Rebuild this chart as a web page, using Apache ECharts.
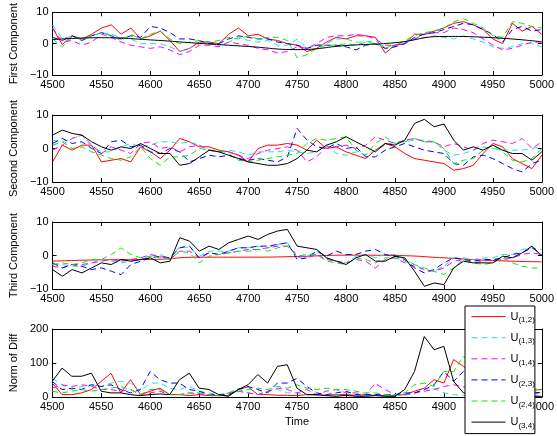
<!DOCTYPE html>
<html>
<head>
<meta charset="utf-8">
<script src="https://cdn.jsdelivr.net/npm/echarts@6/dist/echarts.min.js"></script>
<style>
html,body{margin:0;padding:0;background:#fff;}
#main{width:557px;height:436px;}
</style>
</head>
<body>
<div id="main"></div>
<script>
// sample positions
var time10=[4500,4510,4520,4530,4540,4550,4560,4570,4580,4590,4600,4610,4620,4630,4640,4650,4660,4670,4680,4690,
4700,4710,4720,4730,4740,4750,4760,4770,4780,4790,4800,4810,4820,4830,4840,4850,4860,4870,4880,4890,
4900,4910,4920,4930,4940,4950,4960,4970,4980,4990,5000];
var time50=[4500,4550,4600,4650,4700,4750,4800,4850,4900,4950,5000];
var timeTicks=[4500,4550,4600,4650,4700,4750,4800,4850,4900,4950,5000];
var seriesNames=['U(1,2)','U(1,3)','U(1,4)','U(2,3)','U(2,4)','U(3,4)'];
var panelTitles=['First Component','Second Component','Third Component','Norm of Diff'];

// first component
var first12=[5,-0.3,2.5,1.5,3,5,6,3,5,1.5,2.5,4,1,-2.5,-1.5,0.5,0.5,0,3,5,2.5,3,1.5,1,0,-0.5,-2.5,-1.5,0.5,2,1.5,2.5,2.5,2,-3,-0.5,0,3,3,4,5,6.5,7,6,4.5,1.5,0,6.5,4,5.5,3];
var first13=[6,1.5,2.5,1,2.5,3.5,3,2,1.5,0,0,0,-1,-2.5,-1.5,0,0,-0.5,0.5,2,1,0.5,1,-0.5,-0.5,1.5,-1.5,-0.5,0,1.5,1.5,0.5,0.5,1,-1.5,-1,0,1.5,2,2.5,2,1.5,2.5,1.5,0.5,-1,-1.5,-1,0,0,-1];
var first14=[5,0.5,1,-0.5,0.5,3,2,0.5,-0.5,-1,-1.5,-1,-2,-3.5,-2.5,-0.5,-0.5,-1,0.5,0,-0.5,-1.5,-2,-3,-2.5,-1,-1.5,0,2,2.5,2.5,3,2.5,1.5,-0.5,-0.5,0.5,1.5,3,3.5,3.5,5,4.5,3.5,1.5,-0.5,-2,-1.5,-0.5,0.5,0.5];
var first23=[2,1,2.5,1,2.5,3.5,2.5,1.5,2.5,2,5.5,5,3.5,1.5,1.5,1,0,0,1.5,2.5,2,1.5,1.5,0.5,0,-0.5,-1.5,-0.5,-0.5,-0.5,-1,-2,-0.5,0,-1.5,-1,0,2,3,3.5,4.5,5.5,6.5,6,4.5,3,0.5,4.5,5.5,4,4.5];
var first24=[1.5,-1,2,1.5,2.5,3.5,2.5,1,3,1.5,3,4,1.5,0,0.5,1,0.5,1,2,1.5,2.5,1.5,2,2,1,-4.5,-3.5,-1.5,-0.5,-0.5,0,-0.5,0.5,0,-1,-0.5,1,2.5,3.5,4,5,7,8,6.5,5,2.5,2,7,6.5,5.5,5];
var first34=[1.3,1.9,1.2,0.1,-0.9,-1.9,-0.6,0.3,2.3,1.9,0.6];

// second component
var second12=[-4,1,-0.5,1,1,-4,-3.5,-3,-4,0.5,-1,-3,-0.5,3,2,0.5,0.5,-0.5,-1,-2,-4,0,1,1,1.5,1,-0.5,2.5,0,0.5,-1,-2,-3,-0.5,1.5,0.5,-1.5,-3,-3.5,-4,-4.5,-6.5,-6,-5,-1.5,1.5,0.5,-3,-4.5,-6,-2];
var second13=[2.5,2,3,4,0.5,-1,-1,0.5,1.5,0.5,1,2,2,1.5,2,1,-0.5,-1,-0.5,-1,-2,-1,-1,-1,-0.5,-1,-1.5,-1,1,-1.5,-2,-1,-2,-0.5,1,2,2,2.5,2.5,2,-0.5,-2,-1.5,-0.5,0.5,0,-0.5,-0.5,-0.5,0,0.5];
var second14=[-0.5,1,3,4,1,-1.5,0.5,-0.5,-1.5,1.5,2,0,0.5,-1,0.5,1,-0.5,-1,-1,-2,-3,-1.5,-0.5,0,0.5,-0.5,-4,-2.5,0.5,0.5,1,0,1,3.5,2.5,1.5,2.5,3,2,2,0.5,1.5,0.5,-0.5,1.5,2.5,2,1.5,3,0,2];
var second23=[1.5,3,1.5,2,0,-1.5,2,2.5,0.5,1,-1,-1.5,0,-1,-4,-3,-2,-2.5,-2,-3,-3.5,-3,-3.5,-4,-2.5,6,2.5,0.5,0,1.5,0,0.5,-2.5,-2.5,-0.5,0.5,1.5,0.5,-0.5,-1,-1.5,-4.5,-5,-2.5,-2,-3,-4.5,-6,-7,-4.5,-3.5];
var second24=[1,2,0,0.5,-1,-2,-3,-3.5,-2.5,0.5,-3,-5,-2.5,-2.5,-2,0,-0.5,-0.5,-1.5,-3.5,-4,-3.5,-3,-2.5,-2,-1.5,1.5,3,2.5,3,3.5,-0.5,-2,1.5,3.5,1.5,2,3,2,2,0,-4.5,-3.5,-3,-0.5,1,-1,-3.5,-4,-3,0];
var second34=[4,5.5,4.5,4,2,0.5,-0.5,0.5,0,1.5,0,-1.5,-1.5,-5,-4.5,-2.5,-0.5,-1,-2,-3,-4,-4.5,-5,-5,-4.5,-3,-0.5,-1,1,2,3.5,2,0.5,-1,1.5,1,2.5,7.5,8.7,6.5,7.3,2.5,-0.5,0.5,-0.5,1,-0.5,-1.5,-1.5,-3.5,-1];

// third component
var third12=[-1.7,-1.3,-1.2,-0.5,-0.5,-0.3,0.1,0,-0.7,-1.5,-1.9];
var third13=[-2.7,-2.7,-3.2,-3.2,-2.2,-1.2,-1.7,-2.2,-1.7,-1.2,-0.2,0.3,-1.2,2.8,2.3,-0.2,1.3,1.3,1.3,2.3,2.3,2.8,2.3,3.3,3.8,-0.7,-0.2,1.3,-0.7,-1.7,-2.2,-0.2,0.3,-0.7,0.3,0.3,-1.2,-2.7,-4.2,-4.7,-3.2,-0.7,-0.7,-1.2,-0.7,-0.7,0.3,0.3,1.8,2.3,1.8];
var third14=[-3.2,-3.7,-2.7,-2.7,-2.2,-1.7,-1.2,-1.7,-1.2,-0.7,0.3,-0.2,-1.2,1.3,1.3,-0.7,0.8,0.3,0.8,1.3,1.8,1.8,2.3,2.8,2.8,0.3,-0.7,0.3,-1.2,-1.7,-2.2,-1.2,-1.7,-3.7,-1.2,-0.7,-2.2,-3.2,-4.2,-4.7,-3.7,-1.7,-1.2,-2.2,-1.7,-1.2,-1.2,-0.7,0.3,0.8,0.3];
var third23=[-2.2,-3.7,-2.7,-3.2,-4.2,-3.7,-4.7,-5.7,-2.7,-1.7,-0.7,-0.2,-0.7,2.3,2.8,-0.7,0.8,0.3,1.3,2.3,2.3,2.8,2.8,3.3,3.8,-1.2,-0.7,1.3,-0.2,1.3,0.3,0.3,1.3,1.8,0.3,-0.2,-1.2,-3.7,-5.2,-4.2,-2.2,-0.7,-1.2,-1.7,-1.2,-1.2,-0.7,0.3,0.8,2.3,0.3];
var third24=[-2.7,-2.2,-2.7,-2.2,-1.2,-1.2,0.3,2.3,0.3,-0.7,-0.2,-0.7,-1.2,1.3,0.8,-2.2,-0.2,0.3,0.8,1.3,1.3,1.8,1.3,2.3,2.8,-0.2,0.3,0.3,-1.7,-2.2,-2.7,-0.7,-1.2,-2.2,-0.7,-0.7,-1.7,-2.7,-3.7,-4.7,-5.7,-3.7,-1.2,-2.2,-2.7,-2.2,-0.7,-2.2,-3.2,-3.7,-3.7];
var third34=[-4.2,-6.2,-4.2,-5.2,-3.7,-2.2,-2.7,-1.2,-1.7,-1.2,-0.7,-2.2,-1.7,5.3,4.3,1.3,2.8,1.8,3.8,4.8,5.8,4.8,6.3,7.3,7.8,2.8,2.3,1.8,-0.7,-1.7,-2.7,-0.7,0.3,-1.7,-1.7,-0.2,-0.7,-4.7,-9.2,-8.2,-8.7,-3.7,-1.7,-2.2,-2.2,-2.2,-0.2,-0.7,0.8,2.8,-0.2];

// norm of diff
var norm12=[41,7,7,12,22,46,70,12,51,7,17,26,7,7,4,7,4,4,4,22,30,7,7,5,5,4,7,6,5,7,7,5,6,5,4,4,7,17,26,51,41,110,90,70,50,40,35,30,25,20,22];
var norm13=[55,36,22,31,36,31,41,46,41,17,41,41,26,22,31,17,12,7,12,26,12,7,17,22,12,12,7,5,5,6,5,5,4,5,4,4,5,10,22,26,12,7,5,5,4,5,6,5,4,5,6];
var norm14=[26,36,31,36,31,22,22,17,22,7,12,17,7,7,12,9,7,4,12,17,12,7,17,26,22,12,22,7,17,22,12,12,7,40,22,7,7,12,17,22,31,36,30,25,20,18,15,12,15,12,10];
var norm23=[46,22,26,22,36,31,36,22,12,22,75,51,41,41,22,17,7,7,7,22,31,22,12,41,41,55,31,12,7,12,17,7,7,7,7,7,12,12,22,36,75,46,75,60,45,35,30,25,20,15,12];
var norm24=[17,12,17,22,17,22,26,31,22,7,22,22,7,7,12,12,7,4,12,17,22,26,22,31,26,36,26,22,26,22,22,17,12,12,7,7,12,36,41,31,75,75,120,90,70,55,45,35,30,25,20];
var norm34=[46,85,61,61,70,17,12,12,7,4,7,9,7,51,70,26,22,7,2,22,36,66,41,90,95,26,7,7,4,2,5,2,2,4,2,2,22,75,178,139,149,46,12,6,4,3,3,2,3,2,2];

var panels=[
    [[time10,first12],[time10,first13],[time10,first14],[time10,first23],[time10,first24],[time50,first34]],
    [[time10,second12],[time10,second13],[time10,second14],[time10,second23],[time10,second24],[time10,second34]],
    [[time50,third12],[time10,third13],[time10,third14],[time10,third23],[time10,third24],[time10,third34]],
    [[time10,norm12],[time10,norm13],[time10,norm14],[time10,norm23],[time10,norm24],[time10,norm34]]
];
var lineLooks=[
    {color:'#ff0000',type:'solid'},
    {color:'#1ee0e0',type:[6,4]},
    {color:'#ff00ff',type:[6,4]},
    {color:'#0000ff',type:[6,4]},
    {color:'#00ee00',type:[6,4]},
    {color:'#000000',type:'solid'}
];
var tops=[8,115,222,329];
var heights=[67,67,67,68];
var yRange=[[-10,10,10],[-10,10,10],[-10,10,10],[0,200,100]];

var font='Liberation Sans';
var grids=[],xAxes=[],yAxes=[],series=[];
var tick={show:true,inside:true,length:4,lineStyle:{color:'#000',width:1}};
var line={show:true,onZero:false,lineStyle:{color:'#000',width:1}};

for(var p=0;p<4;p++){
    grids.push({left:39,right:13,top:tops[p],height:heights[p]});
    xAxes.push({type:'value',gridIndex:p,position:'bottom',min:timeTicks[0],max:timeTicks[timeTicks.length-1],interval:50,
        axisLine:line,axisTick:tick,splitLine:{show:false},
        axisLabel:{color:'#000',fontSize:11,fontFamily:font,margin:4,formatter:function(v){return String(v);}},
        name:p==3?'Time':'',nameLocation:'middle',nameGap:19,
        nameTextStyle:{color:'#000',fontSize:11,fontFamily:font}});
    xAxes.push({type:'value',gridIndex:p,position:'top',min:4500,max:5000,interval:50,
        axisLine:line,axisTick:tick,axisLabel:{show:false},splitLine:{show:false}});
    yAxes.push({type:'value',gridIndex:p,position:'left',min:yRange[p][0],max:yRange[p][1],interval:yRange[p][2],
        axisLine:line,axisTick:tick,splitLine:{show:false},
        axisLabel:{color:'#000',fontSize:11,fontFamily:font,margin:4,
            formatter:function(v){return String(v).replace('-','\u2212');}},
        name:panelTitles[p],nameLocation:'middle',nameGap:p==3?27:26,
        nameTextStyle:{color:'#000',fontSize:11,fontFamily:font}});
    yAxes.push({type:'value',gridIndex:p,position:'right',min:yRange[p][0],max:yRange[p][1],interval:yRange[p][2],
        axisLine:line,axisTick:tick,axisLabel:{show:false},splitLine:{show:false}});
    for(var k=0;k<6;k++){
        var xs=panels[p][k][0],ys=panels[p][k][1];
        var smoothOne=(xs===time50);
        series.push({
            name:seriesNames[k],type:'line',xAxisIndex:p*2,yAxisIndex:p*2,
            data:xs.map(function(x,i){return [x,ys[i]];}),
            symbol:'none',smooth:smoothOne?0.5:false,
            lineStyle:{color:lineLooks[k].color,type:lineLooks[k].type,width:1},
            itemStyle:{color:lineLooks[k].color},
            z:3+k
        });
    }
}

var myChart=echarts.init(document.getElementById('main'));
myChart.setOption({
    animation:false,
    backgroundColor:'#fff',
    textStyle:{fontFamily:font},
    grid:grids,
    xAxis:xAxes,
    yAxis:yAxes,
    legend:{
        show:true,orient:'vertical',left:465,top:306,z:20,
        data:seriesNames,
        itemWidth:34,itemHeight:14,itemGap:8,padding:[5,0,4,6],
        backgroundColor:'#fff',borderColor:'#000',borderWidth:1,
        itemStyle:{opacity:0},
        lineStyle:{width:1},
        formatter:function(name){return '{u|U}{s|'+name.slice(1)+'}';},
        textStyle:{color:'#000',rich:{
            u:{fontSize:11,fontFamily:font,color:'#000'},
            s:{fontSize:8,fontFamily:font,color:'#000',padding:[7,0,0,0]}
        }}
    },
    series:series
});
</script>
</body>
</html>
